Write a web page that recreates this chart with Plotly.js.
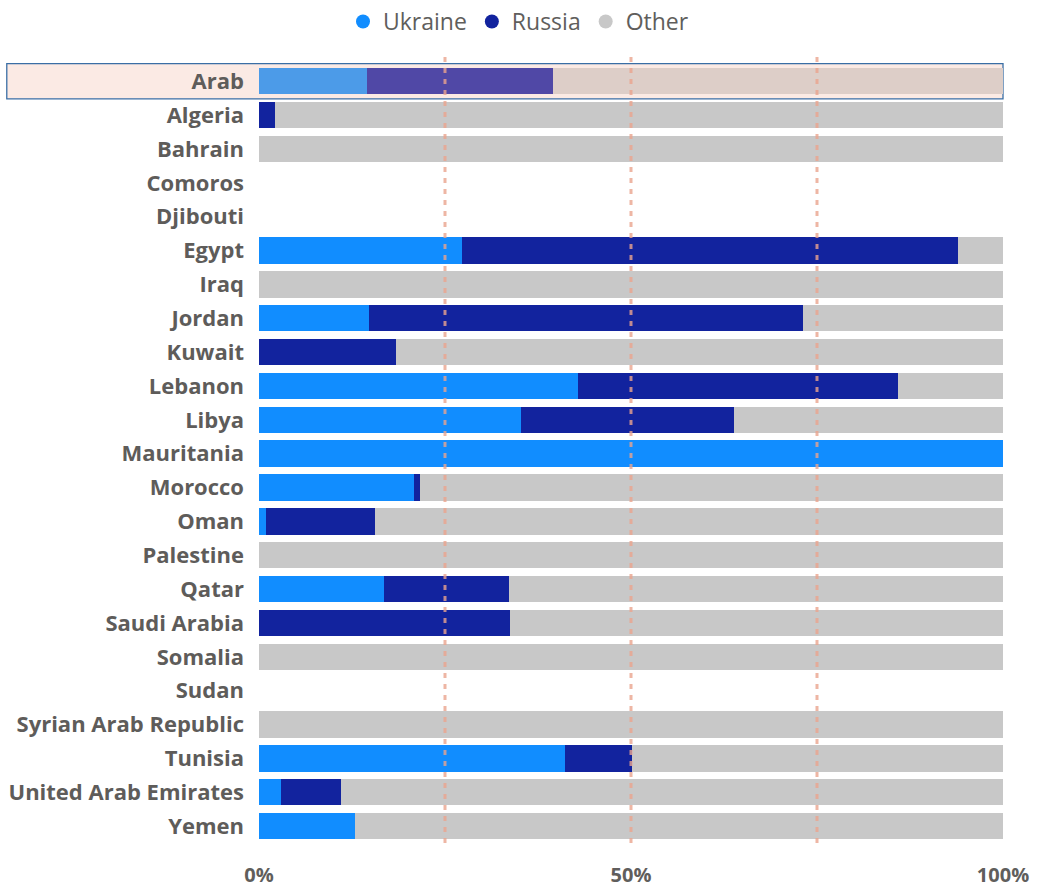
<!DOCTYPE html>
<html><head><meta charset="utf-8">
<script src="https://cdn.plot.ly/plotly-3.0.1.min.js"></script>
<style>html,body{margin:0;padding:0;background:#fff}#chart{width:1037px;height:889px}</style>
</head><body><div id="chart"></div>
<script>
const countries = ["Arab","Algeria","Bahrain","Comoros","Djibouti","Egypt","Iraq","Jordan","Kuwait","Lebanon","Libya","Mauritania","Morocco","Oman","Palestine","Qatar","Saudi Arabia","Somalia","Sudan","Syrian Arab Republic","Tunisia","United Arab Emirates","Yemen"];
const ukraine = [14.5,0,0,0,0,27.3,0,14.8,0,42.9,35.2,100,20.8,0.9,0,16.8,0,0,0,0,41.1,3.0,12.9];
const russia  = [25.0,2.2,0,0,0,66.7,0,58.3,18.4,43.0,28.6,0,0.8,14.7,0,16.8,33.7,0,0,0,9.1,8.0,0];
const other   = [60.5,97.8,100,0,0,6.0,100,26.9,81.6,14.1,36.2,0,78.4,84.4,100,66.4,66.3,100,0,100,49.8,89.0,87.1];
const tickVals = [0,50,100];
const tickText = ["0%","50%","100%"];
const gridVals = [25,50,75];

const colU = countries.map((c,i)=> i===0 ? "#4C9BE8" : "#118DFF");
const colR = countries.map((c,i)=> i===0 ? "#5048A6" : "#12239E");
const colO = countries.map((c,i)=> i===0 ? "#DDCEC8" : "#C8C8C8");

const mk = (name, x, col) => ({type:"bar", orientation:"h", name, x, y:countries,
  marker:{color:col, line:{width:0}}, hoverinfo:"x+y+name", showlegend:false});
const traces = [mk("Ukraine",ukraine,colU), mk("Russia",russia,colR), mk("Other",other,colO)];
[["Ukraine","#118DFF"],["Russia","#12239E"],["Other","#C8C8C8"]].forEach(([n,c])=>{
  traces.push({type:"scatter", mode:"markers", x:[null], y:[null], name:n, marker:{color:c, size:14, symbol:"circle"}, showlegend:true, hoverinfo:"skip"});
});

const shapes = [{type:"rect", xref:"paper", yref:"y", x0:-0.339, x1:1.0, y0:-0.52, y1:0.52,
  fillcolor:"#FBEAE4", line:{color:"#3A6EA5", width:1.3}, layer:"below"}];
gridVals.forEach(v=>shapes.push({type:"line", xref:"x", yref:"paper", x0:v, x1:v, y0:0, y1:1.01,
  line:{color:"#EBA48E", width:3, dash:"5px,6px"}, layer:"above", opacity:0.8}));

const layout = {
  width:1037, height:889,
  margin:{l:259, r:34, t:63, b:46, autoexpand:false},
  barmode:"stack", bargap:0.22,
  paper_bgcolor:"#fff", plot_bgcolor:"rgba(0,0,0,0)",
  font:{family:"Open Sans, sans-serif", color:"#605E5C"},
  showlegend:true,
  legend:{orientation:"h", xref:"container", x:0.5, xanchor:"center", yref:"container", y:1, yanchor:"top",
    font:{size:23, color:"#605E5C", family:"Open Sans, sans-serif"}, itemwidth:30, traceorder:"normal",
    itemclick:false},
  xaxis:{range:[0,100], tickvals:tickVals, ticktext:tickText, showgrid:false, zeroline:false,
    showline:false, ticks:"", fixedrange:true, ticklabelstandoff:18,
    tickfont:{size:20, color:"#605E5C", family:"Open Sans, sans-serif", weight:"bold"}},
  yaxis:{type:"category", autorange:"reversed", showgrid:false, zeroline:false, showline:false,
    ticks:"", ticklabelstandoff:14, fixedrange:true,
    tickfont:{size:22, color:"#5E5C5A", family:"Open Sans, sans-serif", weight:"bold"}},
  shapes
};
Plotly.newPlot("chart", traces, layout, {displayModeBar:false, staticPlot:true});
</script></body></html>
